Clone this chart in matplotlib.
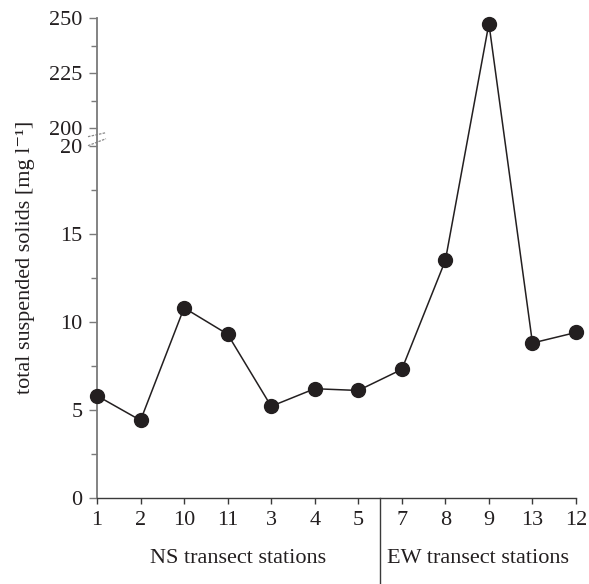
import numpy as np
import matplotlib
matplotlib.use("Agg")
import matplotlib.pyplot as plt
from matplotlib.transforms import blended_transform_factory

plt.rcParams['font.family'] = ['Liberation Serif', 'DejaVu Serif']

stations = ['1', '2', '10', '11', '3', '4', '5', '7', '8', '9', '13', '12']
tss = [5.8, 4.4, 10.8, 9.3, 5.2, 6.2, 6.1, 7.3, 13.5, 247.5, 8.8, 9.4]
groups = ['NS transect stations', 'EW transect stations']
group_sizes = [7, 5]
yticks_major = [0, 5, 10, 15, 20, 200, 225, 250]
yticks_minor = [2.5, 7.5, 12.5, 17.5, 212.5, 237.5]

LOW, GAP, HIGH = 17.56, 18.0, 2.2
def fwd(y):
    y = np.asarray(y, dtype=float)
    return np.where(y <= 20, y * LOW,
                    np.where(y < 200, 20 * LOW + (y - 20) / 180 * GAP,
                             20 * LOW + GAP + (y - 200) * HIGH))

def inv(v):
    v = np.asarray(v, dtype=float)
    a = 20 * LOW
    b = a + GAP
    return np.where(v <= a, v / LOW,
                    np.where(v < b, 20 + (v - a) / GAP * 180,
                             200 + (v - b) / HIGH))

txt = '#231f20'
FS = 16
fig = plt.figure(figsize=(5.89, 5.84), dpi=100)
ax = fig.add_axes([97 / 589, (584 - 497.7) / 584, (576 - 97) / 589, (497.7 - 18) / 584])
ax.set_yscale('function', functions=(fwd, inv))

x = np.arange(len(stations))
ax.plot(x, tss, color=txt, lw=1.1, marker='o', ms=10, mfc=txt, mec=txt, clip_on=False, zorder=5)

ax.set_xlim(0, len(stations) - 1)
ax.set_ylim(0, 250)
ax.set_xticks(x)
ax.set_xticklabels(stations)
ax.set_yticks(yticks_major)
ax.set_yticklabels([str(v) for v in yticks_major])
ax.set_yticks(yticks_minor, minor=True)
ax.xaxis.set_minor_locator(matplotlib.ticker.NullLocator())

for s in ['top', 'right']:
    ax.spines[s].set_visible(False)
ax.spines['left'].set_color('#7a7a7a')
ax.spines['left'].set_linewidth(1.3)
ax.spines['bottom'].set_color('#3a3a3a')
ax.spines['bottom'].set_linewidth(1.0)

ax.tick_params(axis='y', which='major', direction='out', length=5.8, width=1.0, color='#7a7a7a',
               labelsize=FS, labelcolor=txt, pad=4.5)
ax.tick_params(axis='y', which='minor', direction='out', length=4.5, width=1.0, color='#7a7a7a')
ax.tick_params(axis='x', which='major', direction='out', length=4.5, width=1.0, color='#3a3a3a',
               labelsize=FS, labelcolor=txt, pad=5)

ax.set_ylabel('total suspended solids [mg l\u207b\u00b9]', fontsize=FS, color=txt, labelpad=10)

# break marks
for y0, y1 in [(0.7526, 0.761), (0.7338, 0.7484)]:
    ax.plot([-0.0188, 0.0188], [y0, y1], transform=ax.transAxes, color='#8a8a8a',
            lw=0.9, ls=(0, (2, 1)), clip_on=False)

# group divider and labels
trans = blended_transform_factory(ax.transData, ax.transAxes)
bounds = np.cumsum([0] + group_sizes)
div = bounds[1] - 0.5
ax.plot([div, div], [0, -0.185], transform=trans, color='#3a3a3a', lw=1.0, clip_on=False)
edges = [0, div, len(stations) - 1]
for i, g in enumerate(groups):
    ax.text((edges[i] + edges[i + 1]) / 2, -0.136, g, transform=trans, ha='center', va='baseline',
            fontsize=FS, color=txt)

fig.savefig('out.png', dpi=100)
